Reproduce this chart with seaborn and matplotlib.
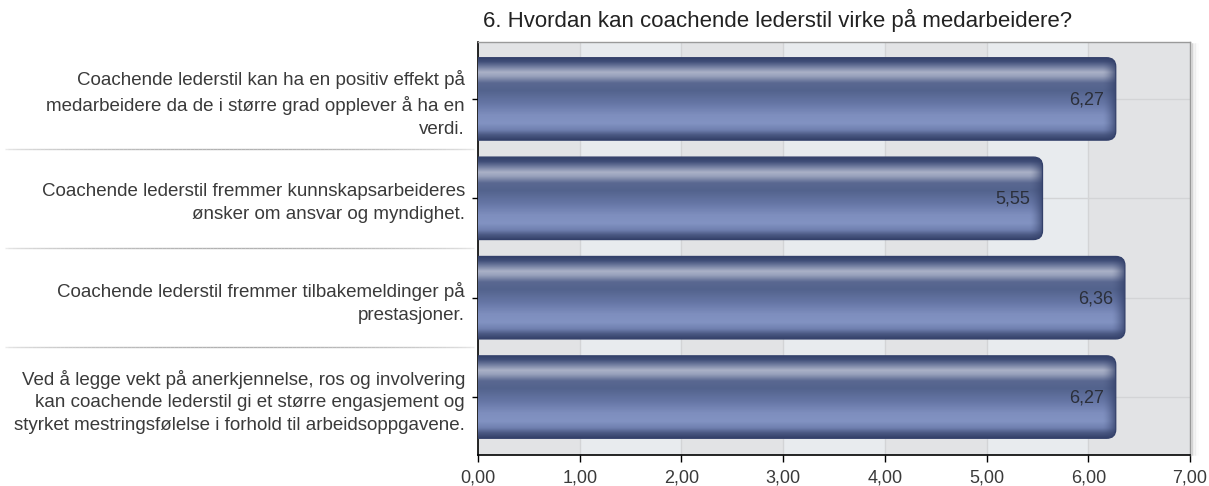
import numpy as np
import pandas as pd
import matplotlib
matplotlib.use("Agg")
import matplotlib.pyplot as plt
import matplotlib.transforms as mtransforms
import seaborn as sns
from matplotlib.patches import FancyBboxPatch
from matplotlib.colors import LinearSegmentedColormap, to_rgb
from matplotlib.collections import LineCollection

# ---- data -------------------------------------------------------------
title = "6. Hvordan kan coachende lederstil virke på medarbeidere?"
statements = [
    "Coachende lederstil kan ha en positiv effekt på\nmedarbeidere da de i større grad opplever å ha en\nverdi.",
    "Coachende lederstil fremmer kunnskapsarbeideres\nønsker om ansvar og myndighet.",
    "Coachende lederstil fremmer tilbakemeldinger på\nprestasjoner.",
    "Ved å legge vekt på anerkjennelse, ros og involvering\nkan coachende lederstil gi et større engasjement og\nstyrket mestringsfølelse i forhold til arbeidsoppgavene.",
]
means = [6.27, 5.55, 6.36, 6.27]
x_ticks = [0, 1, 2, 3, 4, 5, 6, 7]

df = pd.DataFrame({"statement": statements, "mean": means})

# ---- style ------------------------------------------------------------
sns.set_theme(style="white")
plt.rcParams["font.family"] = ["Liberation Sans", "DejaVu Sans"]
text_color = "#3a3a3a"

fig = plt.figure(figsize=(12.09, 4.86), dpi=100)
ax = fig.add_axes([478 / 1209, 1 - 455 / 486, 712 / 1209, 413 / 486])

bar_h = 0.83
sns.barplot(data=df, x="mean", y="statement", orient="h", width=bar_h,
            color="#5a6891", ax=ax, zorder=3)
bars = list(ax.patches)

x_lo, x_hi = x_ticks[0], x_ticks[-1]
y_top, y_bot = -0.573, 3.583

# alternating vertical bands and grid
for i in range(len(x_ticks) - 1):
    ax.axvspan(x_ticks[i], x_ticks[i + 1],
               color="#e2e3e5" if i % 2 == 0 else "#e8ebee", zorder=0, lw=0)
for t in x_ticks[1:-1]:
    ax.axvline(t, color="#d3d4d6", lw=1.0, zorder=0.5)
for k in range(len(statements)):
    ax.axhline(k, color="#d3d4d6", lw=1.0, zorder=0.5)

# glossy bar fill: vertical profile + darkening towards the rounded end
stops = [
    (0.00, "#34416a"), (0.05, "#3f4d77"), (0.11, "#6e7a9e"),
    (0.18, "#aab1c7"), (0.23, "#97a0bb"), (0.31, "#5a6891"),
    (0.40, "#53638d"), (0.55, "#6575a4"), (0.70, "#7e8ebe"),
    (0.80, "#8293c2"), (0.88, "#7080b0"), (0.94, "#4b5983"),
    (1.00, "#34416a"),
]
cmap = LinearSegmentedColormap.from_list("gloss", stops)
edge_dark = np.array(to_rgb("#34416a"))

for patch in bars:
    w = patch.get_width()
    y0 = patch.get_y()
    h = patch.get_height()
    patch.set_alpha(0)

    ny, nx = 200, 600
    prof = cmap(np.linspace(0, 1, ny))[:, :3]
    img = np.repeat(prof[:, None, :], nx, axis=1)
    xs = np.linspace(0, w, nx)
    shade = np.clip((xs - (w - 0.13)) / 0.13, 0, 1) ** 1.6 * 0.75
    img = img * (1 - shade[None, :, None]) + edge_dark * shade[None, :, None]

    box = FancyBboxPatch((-0.3, y0), w + 0.3, h,
                         boxstyle="round,pad=0,rounding_size=0.09",
                         facecolor="none", edgecolor="#33406a", lw=0.9,
                         zorder=4)
    ax.add_patch(box)
    im = ax.imshow(img, extent=(0, w, y0 + h, y0), origin="upper",
                   aspect="auto", zorder=3.5, interpolation="bilinear")
    im.set_clip_path(box)

    label = f"{w:.2f}".replace(".", ",")
    ax.text(w - 0.118, y0 + h / 2 + 0.01, label, ha="right", va="center",
            fontsize=13, color="#2b2f3a", zorder=5)

ax.set_xlim(x_lo, x_hi)
ax.set_ylim(y_bot, y_top)

# axes cosmetics
ax.set_xticks(x_ticks)
ax.set_xticklabels([f"{t:.2f}".replace(".", ",") for t in x_ticks],
                   fontsize=13, color=text_color)
ax.set_yticks(range(len(statements)))
ax.set_yticklabels(statements, fontsize=13.5, color=text_color,
                   linespacing=1.45)
ax.set_xlabel("")
ax.set_ylabel("")
ax.tick_params(axis="x", direction="out", length=5, width=1, color="black",
               pad=5.5, bottom=True)
ax.tick_params(axis="y", direction="out", length=4.3, width=1, color="black",
               pad=5, left=True)
for side in ("left", "bottom"):
    ax.spines[side].set_color("black")
    ax.spines[side].set_linewidth(1.2)
for side in ("top", "right"):
    ax.spines[side].set_color("#9a9a9a")
    ax.spines[side].set_linewidth(1.0)

# separators between statements in the label column
trans = mtransforms.blended_transform_factory(ax.transAxes, ax.transData)
xs_sep = np.linspace(-0.665, -0.006, 120)
fade = np.sin(np.linspace(0, np.pi, len(xs_sep) - 1)) ** 0.6
for yb in [0.5, 1.5, 2.5]:
    segs = [[(xs_sep[i], yb), (xs_sep[i + 1], yb)] for i in range(len(xs_sep) - 1)]
    cols = [(0.45, 0.45, 0.45, 0.15 + 0.4 * f) for f in fade]
    lc = LineCollection(segs, colors=cols, linewidths=1.0, transform=trans,
                        clip_on=False)
    ax.add_collection(lc)

# soft drop shadow along the right border
for j, a in enumerate([0.10, 0.07, 0.045, 0.025, 0.012]):
    xpx = 1191.5 + j * 1.5
    fig.add_artist(plt.Line2D([xpx / 1209, xpx / 1209],
                              [1 - 455 / 486, 1 - 44 / 486],
                              transform=fig.transFigure, color="black",
                              alpha=a, lw=1.5))

fig.text(483 / 1209, 1 - 20 / 486, title, ha="left", va="center",
         fontsize=16, color="#222222")

fig.savefig("out.png", dpi=100)
